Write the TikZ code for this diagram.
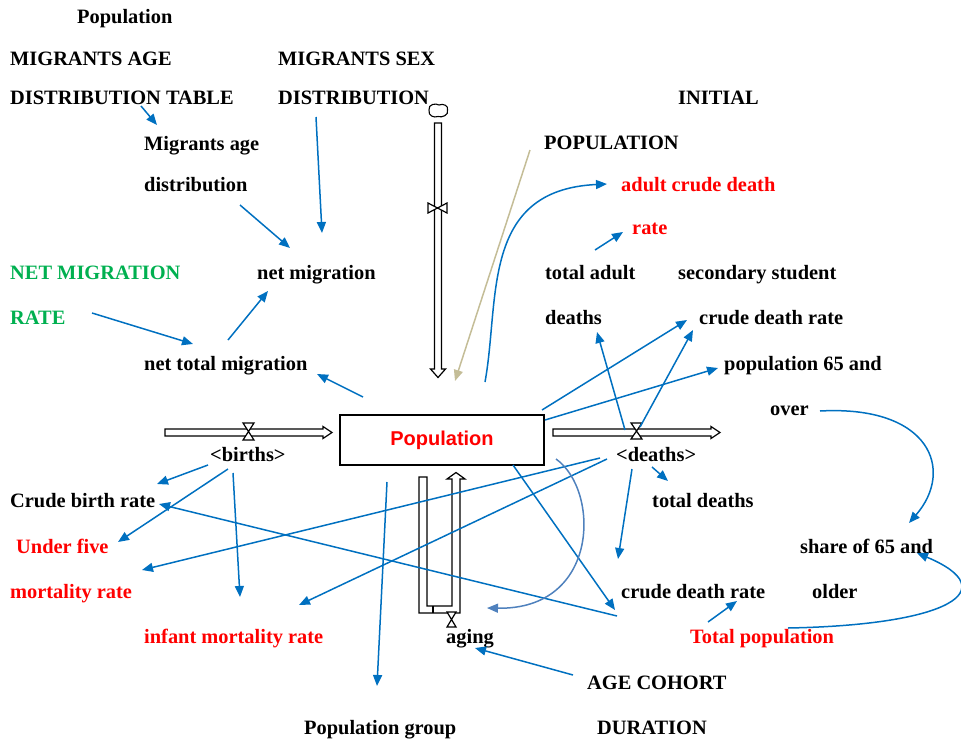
\documentclass[tikz,border=0pt]{standalone}
\usepackage{fontspec}
\setmainfont{Liberation Serif}
\newfontfamily\stockfont{Liberation Sans}
\usetikzlibrary{arrows.meta}
\definecolor{linkblue}{HTML}{0070C0}
\definecolor{softblue}{HTML}{4F81BD}
\definecolor{tanline}{HTML}{C4BD97}
\definecolor{txtred}{HTML}{FF0000}
\definecolor{txtgreen}{HTML}{00B050}
\begin{document}
\begin{tikzpicture}[x=1pt,y=-1pt,
  lbl/.style={anchor=base west, inner sep=0pt, yshift=-0.8pt, font=\fontsize{20.4}{24}\selectfont\bfseries},
  redlbl/.style={lbl, text=txtred},
  greenlbl/.style={lbl, text=txtgreen},
  link/.style={draw=linkblue, line width=1.5pt, -{Triangle[length=11pt,width=9pt]}},
  softlink/.style={draw=softblue, line width=1.5pt, -{Triangle[length=11pt,width=9pt]}},
  tanlink/.style={draw=tanline, line width=1.5pt, -{Triangle[length=11pt,width=9pt]}},
  pipe/.style={draw=black, fill=white, line width=1.2pt, line join=miter},
  valve/.style={draw=black, fill=white, line width=1.2pt, line join=miter},
  stockbox/.style={draw=black, line width=1.3pt, minimum width=204pt, minimum height=50pt,
    inner sep=0pt, text=txtred, font=\stockfont\fontsize{20}{24}\selectfont\bfseries}
]
\useasboundingbox (0,0) rectangle (961,739);

% ---- labels ----
\node[lbl] (popTitle) at (77,22.5) {Population};
\node[lbl] (migAge1) at (10,64.5) {MIGRANTS AGE};
\node[lbl] (migAge2) at (10,103.5) {DISTRIBUTION TABLE};
\node[lbl] (migSex1) at (278,64.5) {MIGRANTS SEX};
\node[lbl] (migSex2) at (278,103.5) {DISTRIBUTION};
\node[lbl] (init1) at (678,103.5) {INITIAL};
\node[lbl] (init2) at (544,148.5) {POPULATION};
\node[lbl] (magd1) at (144,149.5) {Migrants age};
\node[lbl] (magd2) at (144,191) {distribution};
\node[redlbl] (acdr1) at (621,191) {adult crude death};
\node[redlbl] (acdr2) at (632,233.5) {rate};
\node[greenlbl] (nmr1) at (10,278.5) {NET MIGRATION};
\node[lbl] (netmig) at (257,278.5) {net migration};
\node[lbl] (tad1) at (545,278.5) {total adult};
\node[lbl] (sscdr1) at (678,278.5) {secondary student};
\node[greenlbl] (nmr2) at (10,323.5) {RATE};
\node[lbl] (tad2) at (545,323.5) {deaths};
\node[lbl] (sscdr2) at (699,323.5) {crude death rate};
\node[lbl] (ntm) at (144,369.5) {net total migration};
\node[lbl] (p65a) at (724,369.5) {population 65 and};
\node[lbl] (p65b) at (770,414.5) {over};
\node[lbl] (birthsLbl) at (210,460.5) {<births>};
\node[lbl] (deathsLbl) at (616,460.5) {<deaths>};
\node[lbl] (cbr) at (10,506.5) {Crude birth rate};
\node[lbl] (totd) at (652,506.5) {total deaths};
\node[redlbl] (u5a) at (16,552.5) {Under five};
\node[lbl] (sh65a) at (800,552.5) {share of 65 and};
\node[redlbl] (u5b) at (10,597.5) {mortality rate};
\node[lbl] (cdr) at (621,597.5) {crude death rate};
\node[lbl] (sh65b) at (812,597.5) {older};
\node[redlbl] (imr) at (144,642.5) {infant mortality rate};
\node[lbl] (agingLbl) at (446,642.5) {aging};
\node[redlbl] (totpop) at (690,642.5) {Total population};
\node[lbl] (acd1) at (587,688.5) {AGE COHORT};
\node[lbl] (popgrp) at (304,733.5) {Population group};
\node[lbl] (acd2) at (597,733.5) {DURATION};

% ---- stock ----
\node[stockbox] (stock) at (442,440) {Population};

% ---- flow pipes ----
% births inflow
\draw[pipe] (165,429) -- (323,429) -- (323,426.5) -- (332,432.5) -- (323,438.5) -- (323,436) -- (165,436) -- cycle;
% deaths outflow
\draw[pipe] (553,429) -- (711,429) -- (711,426.5) -- (720,432.5) -- (711,438.5) -- (711,436) -- (553,436) -- cycle;
% initial inflow from the source cloud
\draw[pipe] (434.5,123) -- (441.5,123) -- (441.5,369) -- (445.5,369) -- (438,377.5) -- (430.5,369) -- (434.5,369) -- cycle;
\draw[line width=1.1pt] (429,110) .. controls (428,104) and (436,103) .. (439,105)
  .. controls (443,103) and (449,106) .. (447.5,110) .. controls (449,115) and (442,118) .. (438,116.5)
  .. controls (434,118) and (428,116) .. (429,110) -- cycle;
% aging loop
\draw[pipe] (419,477) -- (419,613) -- (460,613) -- (460,479) -- (465,479) -- (456,472.5)
  -- (447,479) -- (452,479) -- (452,606) -- (427,606) -- (427,477) -- cycle;
\draw[line width=1.2pt] (433,606) -- (433,613);

% ---- valves ----
\draw[valve] (243,423) -- (254,423) -- (243,440) -- (254,440) -- cycle;
\draw[valve] (631,423) -- (642,423) -- (631,439) -- (642,439) -- cycle;
\draw[valve] (428,203) -- (428,213) -- (447,203) -- (447,213) -- cycle;
\draw[valve] (447,612) -- (456,612) -- (447,627) -- (456,627) -- cycle;

% ---- connector end points ----
\coordinate (tblOut) at (141,106);   \coordinate (magdIn) at (157,125);
\coordinate (sexOut) at (316,117);   \coordinate (nmIn1) at (322,233);
\coordinate (magdOut) at (240,205);  \coordinate (nmIn2) at (290,248);
\coordinate (rateOut) at (92,313);   \coordinate (ntmIn1) at (193,344);
\coordinate (ntmOut) at (228,340);   \coordinate (nmIn3) at (268,291);
\coordinate (stockNW) at (363,397);  \coordinate (ntmIn2) at (317,374);
\coordinate (initOut) at (530,150);  \coordinate (flowIn) at (455,381);
\coordinate (stockN) at (485,382);   \coordinate (acdrIn1) at (607,184);
\coordinate (tadOut) at (595,250);   \coordinate (acdrIn2) at (623,232);
\coordinate (dvA) at (625,430);      \coordinate (tadIn) at (597,332);
\coordinate (dvB) at (640,427);      \coordinate (ssIn1) at (693,330);
\coordinate (stockNE) at (542,410);  \coordinate (ssIn2) at (687,320);
\coordinate (stockE) at (545,420);   \coordinate (p65In) at (718,368);
\coordinate (overOut) at (820,411);  \coordinate (shIn1) at (909,523);
\coordinate (tpOut1) at (788,628);   \coordinate (shIn2) at (917,553);
\coordinate (dOutA) at (652,467);    \coordinate (totdIn) at (668,481);
\coordinate (dOutB) at (632,469);    \coordinate (cdrIn1) at (618,559);
\coordinate (tpOut2) at (708,622);   \coordinate (cdrIn2) at (737,601);
\coordinate (stockSE) at (513,465);  \coordinate (cdrIn3) at (615,610);
\coordinate (cdrOut) at (617,616);   \coordinate (cbrIn1) at (159,504);
\coordinate (dOutC) at (600,458);    \coordinate (u5In1) at (142,570);
\coordinate (dOutD) at (607,459);    \coordinate (imrIn1) at (299,605);
\coordinate (bOutA) at (208,465);    \coordinate (cbrIn2) at (157,484);
\coordinate (bOutB) at (228,469);    \coordinate (u5In2) at (118,542);
\coordinate (bOutC) at (233,473);    \coordinate (imrIn2) at (240,597);
\coordinate (stockS) at (387,482);   \coordinate (pgIn) at (377,686);
\coordinate (acdOut) at (573,675);   \coordinate (agingIn) at (475,648);
\coordinate (stockSE2) at (556,459); \coordinate (loopIn) at (487,608);

% ---- connectors ----
\draw[link] (tblOut) -- (magdIn);
\draw[link] (sexOut) -- (nmIn1);
\draw[link] (magdOut) -- (nmIn2);
\draw[link] (rateOut) -- (ntmIn1);
\draw[link] (ntmOut) -- (nmIn3);
\draw[link] (stockNW) -- (ntmIn2);
\draw[tanlink] (initOut) -- (flowIn);
\draw[link] (stockN) .. controls (500,300) and (480,190) .. (acdrIn1);
\draw[link] (tadOut) -- (acdrIn2);
\draw[link] (dvA) -- (tadIn);
\draw[link] (dvB) -- (ssIn1);
\draw[link] (stockNE) -- (ssIn2);
\draw[link] (stockE) -- (p65In);
\draw[link] (overOut) .. controls (930,405) and (955,470) .. (shIn1);
\draw[link] (tpOut1) .. controls (950,625) and (1005,590) .. (shIn2);
\draw[link] (dOutA) -- (totdIn);
\draw[link] (dOutB) -- (cdrIn1);
\draw[link] (tpOut2) -- (cdrIn2);
\draw[link] (stockSE) -- (cdrIn3);
\draw[link] (cdrOut) -- (cbrIn1);
\draw[link] (dOutC) -- (u5In1);
\draw[link] (dOutD) -- (imrIn1);
\draw[link] (bOutA) -- (cbrIn2);
\draw[link] (bOutB) -- (u5In2);
\draw[link] (bOutC) -- (imrIn2);
\draw[link] (stockS) -- (pgIn);
\draw[link] (acdOut) -- (agingIn);
\draw[softlink] (stockSE2) .. controls (600,490) and (600,610) .. (loopIn);
\end{tikzpicture}
\end{document}
